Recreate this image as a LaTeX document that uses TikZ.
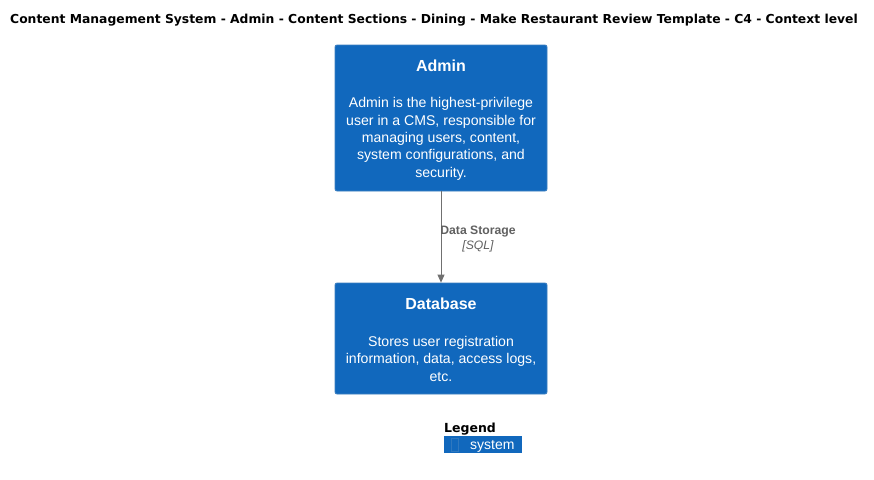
\documentclass[tikz,border=0pt]{standalone}
\usepackage{fontspec}
\setmainfont{Liberation Sans}
\newfontfamily\djv{DejaVu Sans}
\usetikzlibrary{arrows.meta}
\definecolor{c4blue}{HTML}{1168BD}
\definecolor{c4border}{HTML}{3C7FC0}
\definecolor{linegray}{HTML}{707070}
\definecolor{labelgray}{HTML}{606060}
\tikzset{
  sysbox/.style={draw=c4border, fill=c4blue, rounded corners=2pt, line width=0.8pt, minimum width=212pt, inner sep=0pt},
  boxtitle/.style={text=white, font=\fontsize{16}{19}\selectfont\bfseries, inner sep=0pt},
  boxdesc/.style={text=white, font=\fontsize{14.1}{17.4}\selectfont, align=center, inner sep=0pt},
  rel/.style={draw=linegray, line width=0.8pt, -{Triangle[length=8pt,width=7pt]}},
  rellabel/.style={text=labelgray, font=\fontsize{12.2}{15}\selectfont, align=center, inner sep=0pt},
}
\begin{document}
\begin{tikzpicture}[x=1pt,y=-1pt]
\useasboundingbox[fill=white] (0,0) rectangle (874,479);
\node[font=\djv\fontsize{12.35}{15}\selectfont\bfseries, anchor=base west, inner sep=0pt] (title) at (10,23.5) {Content Management System - Admin - Content Sections - Dining - Make Restaurant Review Template - C4 - Context level};
\node[sysbox, minimum height=146pt] (admin) at (441,118) {};
\node[boxtitle, anchor=base] (admint) at (441,71.7) {Admin};
\node[boxdesc, anchor=base] (admind) at (441,177.2) {Admin is the highest-privilege\\user in a CMS, responsible for\\managing users, content,\\system configurations, and\\security.};
\node[sysbox, minimum height=111pt] (db) at (441,338.5) {};
\node[boxtitle, anchor=base] (dbt) at (441,309.7) {Database};
\node[boxdesc, anchor=base] (dbd) at (441,381) {Stores user registration\\information, data, access logs,\\etc.};
\draw[rel] (admin) -- (db);
\node[rellabel, anchor=base] (rl1) at (478,234.5) {\bfseries Data Storage};
\node[rellabel, anchor=base] (rl2) at (478,249.5) {\itshape [SQL]};
\node[font=\djv\fontsize{12.5}{16}\selectfont\bfseries, anchor=base west, inner sep=0pt] (legend) at (444,432.5) {Legend};
\node[fill=c4blue, minimum width=78pt, minimum height=17pt, inner sep=0pt] (leg) at (483,444.5) {};
\draw[c4border!70!c4blue, line width=0.6pt] (451.5,438.5) rectangle (458.5,451.5);
\node[text=white, font=\fontsize{14}{15}\selectfont, anchor=base west, inner sep=0pt] (legt) at (470,449.8) {system};
\end{tikzpicture}
\end{document}
